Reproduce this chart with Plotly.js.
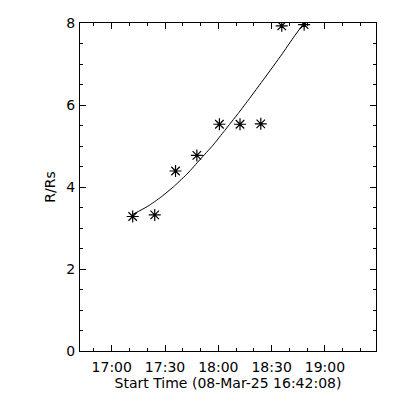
<!DOCTYPE html>
<html>
<head>
<meta charset="utf-8">
<script src="https://cdn.plot.ly/plotly-3.0.1.min.js"></script>
<style>html,body{margin:0;padding:0;background:#fff;}#chart{width:400px;height:400px;}</style>
</head>
<body>
<div id="chart"></div>
<script>
// Measured height-time points (R/Rs)
const obsTimes = ["2025-03-08 17:11:48","2025-03-08 17:24:12","2025-03-08 17:35:54","2025-03-08 17:47:54","2025-03-08 18:00:36","2025-03-08 18:12:12","2025-03-08 18:23:54","2025-03-08 18:35:42","2025-03-08 18:48:18"];
const obsHeights = [3.28, 3.32, 4.39, 4.77, 5.53, 5.53, 5.54, 7.93, 7.96];

// Fitted curve
const fitTimes = ["2025-03-08 17:11:48","2025-03-08 17:20:18","2025-03-08 17:27:54","2025-03-08 17:35:24","2025-03-08 17:42:54","2025-03-08 17:49:30","2025-03-08 17:57:00","2025-03-08 18:03:36","2025-03-08 18:11:06","2025-03-08 18:16:42","2025-03-08 18:26:06","2025-03-08 18:35:30","2025-03-08 18:43:00","2025-03-08 18:48:36"];
const fitHeights = [3.33, 3.53, 3.76, 4.03, 4.34, 4.66, 5.02, 5.38, 5.79, 6.11, 6.66, 7.22, 7.69, 8.02];

const xRange = ["2025-03-08 16:42:08","2025-03-08 19:28:45"];
const yRange = [0, 8];
const xTitle = "Start Time (08-Mar-25 16:42:08)";
const yTitle = "R/Rs";

const font = {family: "DejaVu Sans, sans-serif", size: 14, color: "#000"};

const traces = [
  {x: fitTimes, y: fitHeights, type: "scatter", mode: "lines",
   line: {color: "#000", width: 1, shape: "spline", smoothing: 0.5}, hoverinfo: "skip"},
  {x: obsTimes, y: obsHeights, type: "scatter", mode: "markers",
   marker: {symbol: "asterisk-open", size: 10, color: "#000", line: {color: "#000", width: 1.2}}}
];

const axisCommon = {
  showline: true, linecolor: "#000", linewidth: 1, mirror: "allticks",
  ticks: "inside", ticklen: 6, tickwidth: 1, tickcolor: "#000",
  showgrid: false, zeroline: false, tickfont: font
};

const layout = {
  width: 400, height: 400,
  margin: {l: 80, r: 24, t: 23, b: 49},
  paper_bgcolor: "#fff", plot_bgcolor: "#fff",
  showlegend: false, font: font,
  xaxis: Object.assign({}, axisCommon, {
    type: "date", range: xRange,
    tick0: "2025-03-08 17:00:00", dtick: 30*60*1000, tickformat: "%H:%M",
    ticklabelstandoff: 3,
    minor: {dtick: 10*60*1000, ticks: "inside", ticklen: 3, tickcolor: "#000", showgrid: false},
    title: {text: xTitle, font: font, standoff: 2}
  }),
  yaxis: Object.assign({}, axisCommon, {
    range: yRange, tick0: 0, dtick: 2,
    ticklabelstandoff: 1,
    minor: {dtick: 0.5, ticks: "inside", ticklen: 3, tickcolor: "#000", showgrid: false},
    title: {text: yTitle, font: font, standoff: 7}
  })
};

Plotly.newPlot("chart", traces, layout, {staticPlot: true, displayModeBar: false});
</script>
</body>
</html>
